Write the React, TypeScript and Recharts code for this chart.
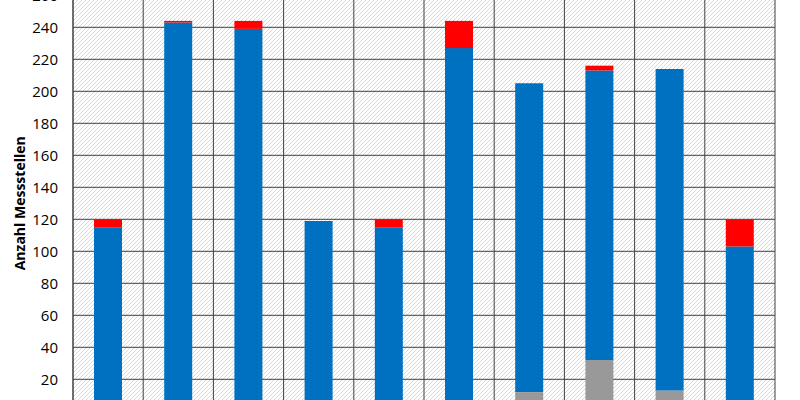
import { BarChart, Bar, XAxis, YAxis, CartesianGrid } from 'recharts'

// Categories (axis labels are below the visible crop)
const categories = ['1', '2', '3', '4', '5', '6', '7', '8', '9', '10']

// Stacked values, bottom to top
const grayValues = [0, 0, 0, 0, 0, 0, 12, 32, 13, 0]
const blueValues = [115, 243, 239, 119, 115, 227, 193, 181, 201, 103]
const redValues = [5, 1, 5, 0, 5, 17, 0, 3, 0, 17]

const yTicks = [20, 40, 60, 80, 100, 120, 140, 160, 180, 200, 220, 240, 260]

const data = categories.map((name, i) => ({
  name,
  gray: grayValues[i],
  blue: blueValues[i],
  red: redValues[i],
}))

const font = '"Open Sans", sans-serif'

export default function App() {
  // vertical lines sit on the category boundaries
  const boundaryLines = ({ offset }: any) =>
    Array.from({ length: categories.length + 1 }, (_, i) => offset.left + (i * offset.width) / categories.length)

  return (
    <div style={{ position: 'fixed', top: 0, left: 0, width: 800, height: 400, overflow: 'hidden', background: '#fff' }}>
      <div style={{ position: 'absolute', top: -10, left: 0 }}>
        <BarChart
          width={800}
          height={440}
          data={data}
          margin={{ top: 5.3, right: 25, bottom: 18.7, left: 0 }}
          barSize={28}
        >
          <defs>
            <pattern id="hatch" patternUnits="userSpaceOnUse" width="4" height="4">
              <rect width="4" height="4" fill="#fff" />
              <path d="M-1,1 l2,-2 M0,4 l4,-4 M3,5 l2,-2" stroke="#d2d2d2" strokeWidth={0.9} />
            </pattern>
          </defs>
          <CartesianGrid
            fill="url(#hatch)"
            stroke="#404040"
            strokeWidth={1}
            verticalCoordinatesGenerator={boundaryLines}
          />
          <XAxis dataKey="name" hide />
          <YAxis
            width={73}
            domain={[0, 260]}
            ticks={yTicks}
            interval={0}
            tickLine={false}
            tickSize={6}
            tickMargin={9}
            axisLine={{ stroke: '#404040' }}
            tick={{ fill: '#000', fontSize: 15, fontFamily: font }}
            label={{
              value: 'Anzahl Messstellen',
              angle: -90,
              position: 'insideLeft',
              offset: 20,
              style: { textAnchor: 'middle', fill: '#000', fontSize: 14, fontWeight: 700, fontFamily: font },
            }}
          />
          <Bar dataKey="gray" stackId="a" fill="#999999" isAnimationActive={false} />
          <Bar dataKey="blue" stackId="a" fill="#0070C0" isAnimationActive={false} />
          <Bar dataKey="red" stackId="a" fill="#FF0000" isAnimationActive={false} />
        </BarChart>
      </div>
    </div>
  )
}
